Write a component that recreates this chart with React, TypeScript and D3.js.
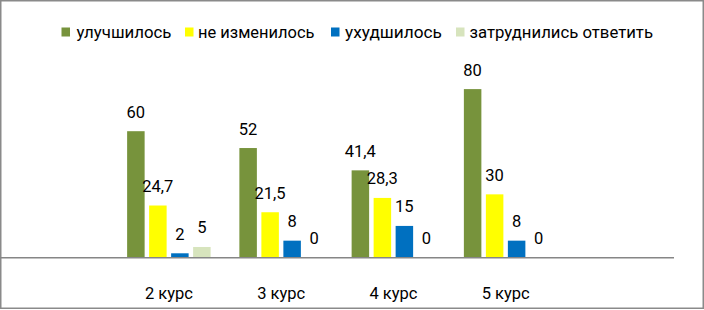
import React from "react";
import * as d3 from "d3";

const categories = ["2 курс", "3 курс", "4 курс", "5 курс"];
const seriesNames = ["улучшилось", "не изменилось", "ухудшилось", "затруднились ответить"];
const improved = [60, 52, 41.4, 80];
const unchanged = [24.7, 21.5, 28.3, 30];
const worsened = [2, 8, 15, 8];
const hardToSay = [5, 0, 0, 0];
const seriesColors = ["#77933C", "#FFFF00", "#0070C0", "#D7E4BD"];

const W = 704;
const H = 310;

export default function App() {
  const seriesValues = [improved, unchanged, worsened, hardToSay];
  const slots = ["_a", ...categories, "_b"];
  const x = d3.scaleBand<string>().domain(slots).range([0.5, 674]);
  const groupW = 83.5;
  const xs = d3
    .scaleBand<string>()
    .domain(seriesNames)
    .range([0, groupW])
    .paddingInner(0.2045);
  const y = d3.scaleLinear().domain([0, 100]).range([257.5, 47]);
  const fmt = (v: number) => String(v).replace(".", ",");

  const legendItems = [
    { sx: 61.5, tx: 76.5, w: 95 },
    { sx: 185, tx: 198, w: 116.5 },
    { sx: 331, tx: 345, w: 97 },
    { sx: 456, tx: 469.5, w: 183.5 },
  ];

  return (
    <svg
      width={W}
      height={H}
      style={{ position: "absolute", left: 0, top: 0, background: "#fff" }}
      fontFamily="Roboto, 'Liberation Sans', sans-serif"
    >
      <rect x={0.75} y={0.75} width={W - 1.5} height={H - 2.5} fill="#fff" stroke="#8a8a8a" strokeWidth={1.5} />
      {seriesNames.map((name, i) => (
        <g key={name}>
          <rect x={legendItems[i].sx} y={27.5} width={8.5} height={9} fill={seriesColors[i]} />
          <text
            x={legendItems[i].tx}
            y={38}
            fontSize={16.5}
            textLength={legendItems[i].w}
            lengthAdjust="spacingAndGlyphs"
            fill="#000"
          >
            {name}
          </text>
        </g>
      ))}
      {categories.map((cat, ci) => {
        const cx = (x(cat) as number) + x.bandwidth() / 2;
        const gx = cx - groupW / 2;
        return (
          <g key={cat}>
            {seriesNames.map((s, si) => {
              const v = seriesValues[si][ci];
              const bx = gx + (xs(s) as number);
              const bw = xs.bandwidth();
              return (
                <g key={s}>
                  {v > 0 && (
                    <rect x={bx} y={y(v)} width={bw} height={y(0) - y(v)} fill={seriesColors[si]} />
                  )}
                  <text
                    x={bx + bw / 2}
                    y={y(v) - 13.5}
                    textAnchor="middle"
                    fontSize={16.5}
                    fill="#000"
                  >
                    {fmt(v)}
                  </text>
                </g>
              );
            })}
            <text x={cx} y={299} textAnchor="middle" fontSize={16.5} fill="#000">
              {cat}
            </text>
          </g>
        );
      })}
      <line x1={0} x2={674} y1={257.75} y2={257.75} stroke="#868686" strokeWidth={1.5} />
    </svg>
  );
}
